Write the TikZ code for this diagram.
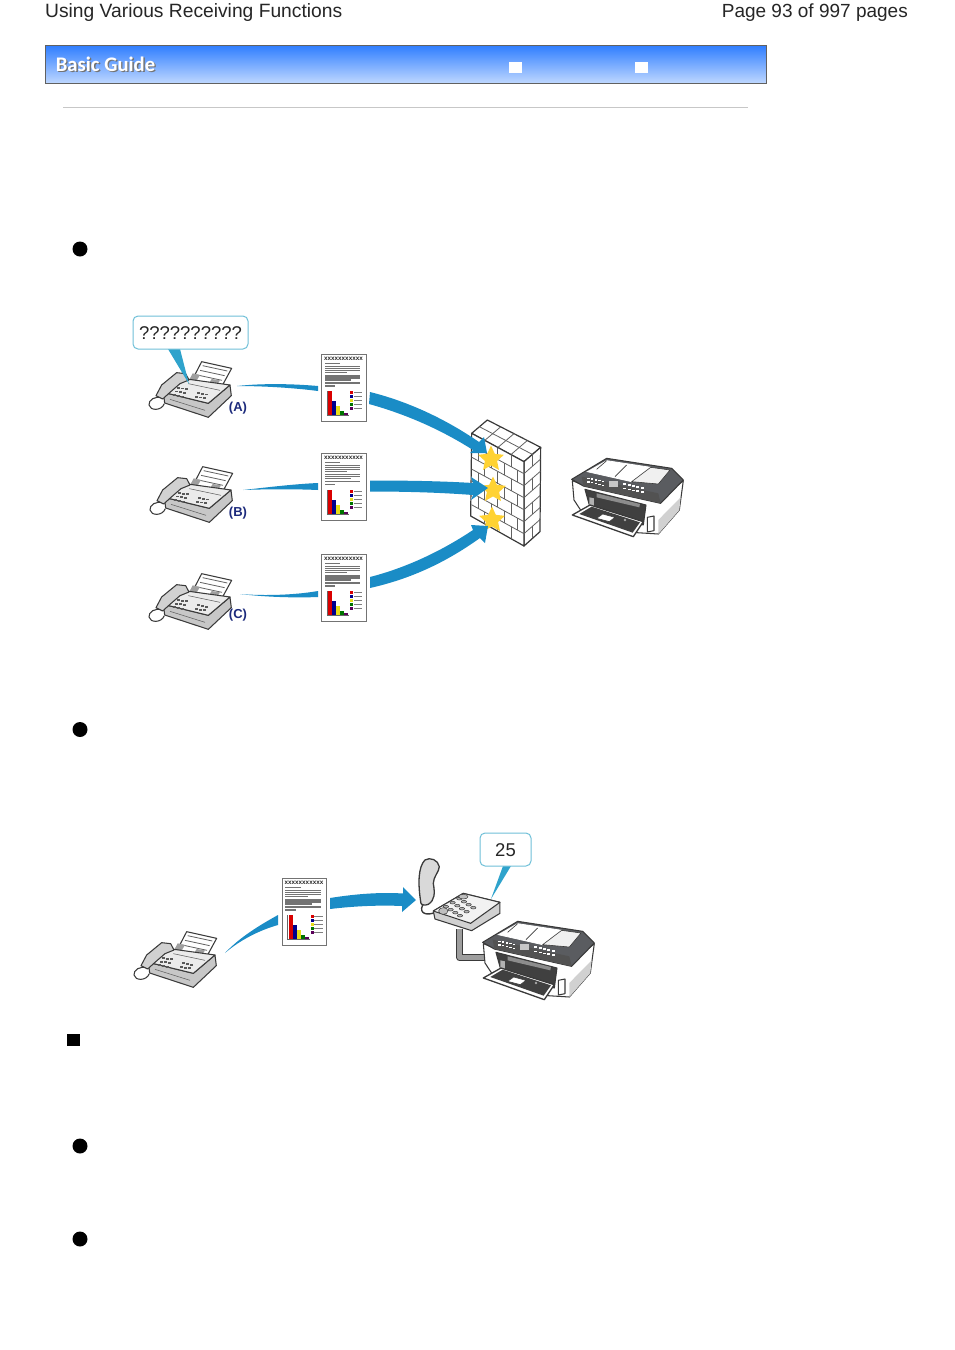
\documentclass[tikz,border=0pt]{standalone}
\usepackage{fontspec}
\setmainfont{Liberation Sans}
\newfontfamily\guidefont{Carlito}
\usetikzlibrary{shapes.geometric}
\definecolor{arrowblue}{HTML}{1A8CC6}
\definecolor{bubbleedge}{HTML}{6FC0D8}
\definecolor{tailblue}{HTML}{2FA3CC}
\definecolor{inkdark}{HTML}{3A3A3A}
\definecolor{lidgray}{HTML}{5A5C60}
\definecolor{labelblue}{HTML}{1C2A7C}
\definecolor{stargold}{HTML}{FFD233}
\tikzset{
  x=1pt,y=-1pt,
  flow/.style={fill=arrowblue,draw=none},
  bulletdot/.style={circle,fill=black,draw=none,minimum size=15pt,inner sep=0pt},
  bubblebox/.style={draw=bubbleedge,line width=1pt,rounded corners=5pt,fill=white},
  taillabel/.style={fill=tailblue,draw=none},
  callerlabel/.style={font=\bfseries\fontsize{13}{14}\selectfont,text=labelblue,inner sep=0pt},
  bubbletext/.style={font=\fontsize{18.5}{22}\selectfont,text=black!85,inner sep=0pt},
  headtext/.style={font=\fontsize{19.25}{22}\selectfont,text=black!85,inner sep=0pt},
  pagetext/.style={font=\fontsize{19}{22}\selectfont,text=black!85,inner sep=0pt},
  ink/.style={draw=inkdark,line width=1.05pt,line join=round},
  thinink/.style={draw=inkdark!80,line width=.55pt},
  brick/.style={draw=black!62,line width=.8pt}
}
% fax machine, in units of the 3x crop
\newcommand{\faxmachine}[2]{%
\begin{scope}[shift={(#1,#2)},scale=0.3333]
  \draw[ink] (128,278) .. controls (105,272) and (85,285) .. (87,300) .. controls (90,318) and (125,318) .. (133,296);
  \draw[ink,fill=white] (245,170)--(335,190)--(305,245)--(215,228)--cycle;
  \foreach \t in {0,1,2}{\draw[thinink,line width=.8pt] (248+\t*-8,182+\t*14)--(322-\t*8,198+\t*14);}
  \fill[gray!75] (218,205)--(240,210)--(225,235)--(205,230)--cycle;
  \fill[gray!75] (275,222)--(300,226)--(290,242)--(265,238)--cycle;
  \draw[ink,fill=black!22] (130,262)--(134,294)--(265,337)--(334,272)--(330,240)--(265,295)--cycle;
  \draw[ink,fill=black!8] (130,262)--(200,222)--(330,240)--(265,295)--cycle;
  \draw[ink,fill=black!18] (108,272)--(125,240)--(170,203)--(197,206)--(207,225)--(180,236)--(150,262)--(128,282)--cycle;
  \foreach \a/\b in {0/0,1/0,2/0,0/1,1/1,2/1,0/2,1/2,2/2}{
    \fill[black!65] (172+\a*12+\b*-6,246+\b*11+\a*2) rectangle ++(9,5.5);}
  \foreach \a/\b in {0/0,1/0,2/0,0/1,1/1,2/1}{
    \fill[black!65] (230+\a*12+\b*-6,262+\b*11+\a*2) rectangle ++(9,5.5);}
  \draw[thinink] (205,236)--(300,256);
  \draw[thinink] (150,283)--(255,316);
\end{scope}}
% printed page with chart
\newcommand{\faxpage}[3]{%
\node[draw=black!55,line width=.9pt,fill=white,minimum width=44.5pt,minimum height=66.5pt,inner sep=0pt,anchor=north west] (#3) at (#1,#2) {};
\begin{scope}[shift={(#1,#2)}]
  \node[inner sep=0pt,font=\bfseries\fontsize{6.3}{6}\selectfont,text=black!85] at (22.2,4.6) {xxxxxxxxxxx};
  \fill[black!55] (3.5,9) rectangle (19,10);
  \fill[black!55] (3.5,11.5) rectangle (39,12.7);
  \fill[black!55] (3.5,13.5) rectangle (39,14.7);
  \fill[black!55] (3.5,15.5) rectangle (39,16.7);
  \fill[black!55] (3.5,17.5) rectangle (26,18.7);
  \fill[black!55] (3.5,21) rectangle (39,22.2);
  \fill[black!55] (3.5,23) rectangle (39,24.2);
  \fill[black!55] (3.5,25) rectangle (30,26.2);
  \fill[black!55] (3.5,28) rectangle (39,29.2);
  \fill[black!55] (3.5,31) rectangle (14,32.2);
  \draw[black!60,line width=.4pt] (5.5,37)--(5.5,61)--(28,61);
  \fill[red!85!black] (7,37) rectangle (11,61);
  \fill[blue!55!black] (11,47) rectangle (15,61);
  \fill[yellow!90!black] (15,52) rectangle (19,61);
  \fill[green!45!black] (19,57) rectangle (23,61);
  \fill[violet!70!black] (23,59) rectangle (27,61);
  \foreach \y/\c in {37/red!85!black,41/blue!55!black,45/yellow!90!black,49/green!45!black,53/violet!70!black}{
    \fill[\c] (29,\y) rectangle (32,\y+3);
    \fill[black!50] (32.5,\y+1) rectangle (41,\y+2);
  }
\end{scope}}
% printer, in units of the 3x crop
\newcommand{\printerbox}[2]{%
\begin{scope}[shift={(#1,#2)},scale=0.3333]
  \draw[ink,fill=white] (367,212)--(372,270)--(395,305)--(560,368)--(625,372)--(688,300)--(700,212)--(630,270)--(400,225)--cycle;
  \fill[black!18] (625,372)--(688,300)--(692,262)--(625,330)--cycle;
  \draw[ink,fill=lidgray] (365,208)--(470,145)--(665,175)--(700,210)--(632,280)--(400,228)--cycle;
  \draw[draw=white,line width=.8pt,fill=white] (412,185)--(470,152)--(602,172)--(545,215)--cycle;
  \draw[ink,line width=.6pt,fill=black!6] (545,215)--(602,172)--(660,180)--(625,222)--cycle;
  \draw[inkdark,line width=.6pt] (470,152)--(440,178);
  \draw[inkdark,line width=.6pt] (530,165)--(495,200);
  \fill[black!68] (395,200)--(625,250)--(632,280)--(400,228)--cycle;
  \fill[black!22] (478,213) rectangle (505,232);
  \foreach \a in {0,1,2,3,4}{
    \fill[white] (412+\a*11,203+\a*2.4) rectangle ++(7,4);
    \fill[white] (412+\a*11,214+\a*2.4) rectangle ++(7,4);
    \fill[white] (520+\a*13,220+\a*2.8) rectangle ++(9,5);
    \fill[white] (520+\a*13,233+\a*2.8) rectangle ++(9,5);
  }
  \draw[ink,fill=black!75] (405,238)--(588,285)--(580,345)--(420,292)--cycle;
  \fill[black!30] (418,262)--(432,265)--(432,295)--(418,290)--cycle;
  \fill[black!45] (440,250)--(570,282)--(568,292)--(440,262)--cycle;
  \draw[ink,fill=white] (592,322)--(612,318)--(612,362)--(592,366)--cycle;
  \draw[ink,line width=1.3pt,fill=white] (367,315)--(420,285)--(580,335)--(550,380)--cycle;
  \fill[black!75] (388,312)--(425,290)--(570,337)--(548,368)--cycle;
  \draw[inkdark,line width=.6pt,fill=white] (440,325)--(458,312)--(495,322)--(478,335)--cycle;
  \draw[ink,line width=.7pt,fill=white] (525,330) circle (5);
\end{scope}}
% one star
\newcommand{\hitstar}[3]{\node[star,star points=5,star point ratio=2.1,fill=stargold,draw=none,minimum size=27pt,inner sep=0pt,line join=round] (#3) at (#1,#2) {};}
\begin{document}
\begin{tikzpicture}
\useasboundingbox (0,0) rectangle (954,1350);
\fill[white] (0,0) rectangle (954,1350);
% head
\node[headtext,anchor=base west] (title) at (45,17) {Using Various Receiving Functions};
\node[pagetext,anchor=base east] (pageno) at (908,17) {Page 93 of 997 pages};
% banner
\shade[top color={rgb,255:red,46;green,125;blue,255},bottom color={rgb,255:red,190;green,215;blue,255}] (45,45) rectangle (766,83);
\draw[draw=black!62,line width=.9pt] (45.5,45.5) rectangle (766,83);
\node[inner sep=0pt,anchor=base west,font=\guidefont\bfseries\fontsize{20.7}{22}\selectfont,text=black!55] (guideS) at (57,72) {Basic Guide};
\node[inner sep=0pt,anchor=base west,font=\guidefont\bfseries\fontsize{20.7}{22}\selectfont,text=white] (guide) at (55.6,71) {Basic Guide};
\fill[white] (509,62) rectangle (522,73);
\fill[white] (635,62) rectangle (648,73);
\draw[black!22,line width=.8pt] (63,107.5)--(748,107.5);
% bullets
\node[bulletdot] (b1) at (80,249) {};
\node[bulletdot] (b2) at (80,729.5) {};
\node[bulletdot] (b3) at (80,1146) {};
\node[bulletdot] (b4) at (80,1239) {};
\fill[black] (67,1034) rectangle (80,1046);
% first diagram ------------------------------------
\faxmachine{120}{305}
\faxmachine{121}{410}
\faxmachine{120}{517}
\node[callerlabel] (la) at (238,408) {(A)};
\node[callerlabel] (lb) at (238,513) {(B)};
\node[callerlabel] (lc) at (238,615.5) {(C)};
\fill[taillabel] (168,349)--(180,349)--(189,384)--cycle;
\node[bubblebox,minimum width=115pt,minimum height=33pt,inner sep=0pt] (q) at (190.5,332.5) {};
\node[bubbletext] (qt) at (190.5,333) {??????????};
\faxpage{321.3}{354.3}{pa}
\faxpage{321.3}{453}{pb}
\faxpage{321.3}{554.3}{pc}
\fill[flow] (237,386) .. controls (265,383) and (295,384) .. (318,386) -- (318,391) .. controls (295,388) and (265,386) .. (237,386) -- cycle;
\fill[flow] (243,490) .. controls (270,487) and (295,484) .. (318,483) -- (318,490) .. controls (295,489) and (270,489) .. (243,490) -- cycle;
\fill[flow] (240,594) .. controls (265,596) and (295,595) .. (318,591) -- (318,597) .. controls (295,598) and (265,597) .. (240,594) -- cycle;
% firewall
\begin{scope}[shift={(450,410)},scale=0.3333]
  \draw[ink,fill=white,line width=1.2pt] (65,70)--(112,30)--(272,112)--(222,155)--cycle;
  \draw[ink,fill=white,line width=1.2pt] (222,155)--(272,112)--(270,365)--(222,408)--cycle;
  \draw[ink,fill=white,line width=1.2pt] (65,70)--(222,155)--(222,408)--(62,318)--cycle;
  \foreach \s in {1,2,3}{
    \draw[brick] (65+\s*39.25,70+\s*21.25)--(112+\s*40,30+\s*20.5);
  }
  \draw[brick] (88,50)--(247,133);
  \foreach \s in {1,...,6}{
    \draw[brick] (64.5,70+\s*35.7)--(222,155+\s*36);
    \draw[brick] (222,155+\s*36)--(271,112+\s*36);
  }
  \foreach \s in {0,2,4,6}{
    \foreach \k in {1,2,3}{\draw[brick] (65+\k*39.25,70+\k*21.25+\s*36)--++(0,36);}
  }
  \foreach \s in {1,3,5}{
    \foreach \k in {.5,1.5,2.5,3.5}{\draw[brick] (65+\k*39.25,70+\k*21.25+\s*36)--++(0,36);}
  }
  \foreach \s in {0,2,4,6}{\draw[brick] (247,133+\s*36)--++(0,36);}
\end{scope}
\hitstar{491}{459}{s1}
\hitstar{493}{490}{s2}
\hitstar{492}{520}{s3}
\fill[flow] (370,392) .. controls (410,402) and (447,420) .. (479,442) -- (484,437) -- (487,453) -- (470,453) -- (473,450) .. controls (440,429) and (405,414) .. (369,404) -- cycle;
\fill[flow] (370,480.5) .. controls (405,480.5) and (440,481) .. (473,483) -- (471,477) -- (488,488) -- (471,500) -- (473,495) .. controls (440,492.5) and (405,491.5) .. (370,491.5) -- cycle;
\fill[flow] (370,577) .. controls (405,568) and (440,552) .. (473,530) -- (471,525) -- (488,526) -- (485,543) -- (480,538) .. controls (445,563) and (410,579) .. (370,588) -- cycle;
\printerbox{450}{410}
% second diagram -----------------------------------
\faxmachine{105}{875}
\faxpage{281.8}{878.3}{pd}
\fill[flow] (225,953) .. controls (240,937) and (260,925) .. (278,915) -- (278,925) .. controls (260,930) and (240,940) .. (225,953) -- cycle;
\fill[flow] (330,898) .. controls (355,894) and (380,892) .. (403,893.5) -- (403,887) -- (416,900) -- (402,912) -- (402,906) .. controls (380,905) and (355,906) .. (330,909) -- cycle;
% phone and cable
\begin{scope}[shift={(120,825)},scale=0.3333]
  \draw[inkdark,line width=7pt,line join=round] (1020,312)--(1020,398)--(1100,398);
  \draw[black!38,line width=5pt,line join=round] (1020,312)--(1020,398)--(1100,398);
  \draw[ink,line width=1.4pt] (908,240) .. controls (895,268) and (925,272) .. (945,262);
  \draw[ink,fill=black!18] (1140,232)--(1140,265)--(1055,317)--(945,282)--(940,258)--(1030,205)--cycle;
  \draw[ink,fill=black!5] (940,258)--(1030,205)--(1140,232)--(1052,295)--cycle;
  \foreach \a in {0,1,2}{\foreach \b in {0,1,2,3}{
    \draw[inkdark,fill=black!30,line width=.5pt] (1020+\a*20+\b*-14,272+\a*-12+\b*-9) ellipse [x radius=8,y radius=4];}}
  \draw[inkdark,line width=.5pt,fill=black!25] (970,258) ellipse [x radius=14,y radius=10];
  \draw[inkdark,line width=.5pt,fill=black!25] (1030,215) ellipse [x radius=14,y radius=7];
  \draw[ink,line width=1.3pt,fill=black!15] (903,235) .. controls (893,175) and (895,125) .. (915,105) .. controls (930,95) and (955,105) .. (958,125) .. controls (958,140) and (940,155) .. (940,175) .. controls (945,205) and (945,225) .. (925,238) .. controls (915,242) and (905,240) .. (903,235) -- cycle;
\end{scope}
\printerbox{361}{873}
\fill[taillabel] (503,866)--(511,866)--(491,899)--cycle;
\node[bubblebox,minimum width=51pt,minimum height=33pt,inner sep=0pt] (n) at (505.5,849.5) {};
\node[bubbletext] (nt) at (505.5,850) {25};
\end{tikzpicture}
\end{document}
